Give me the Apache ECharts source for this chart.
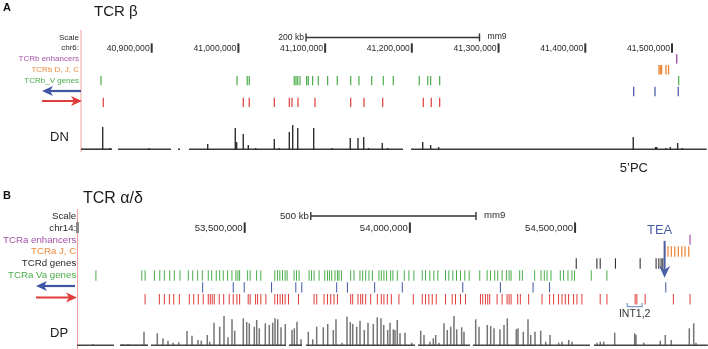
<!DOCTYPE html>
<html>
<head>
<meta charset="utf-8">
<script src="https://cdn.jsdelivr.net/npm/echarts@6/dist/echarts.min.js"></script>
<style>
  html, body { margin: 0; padding: 0; background: #fff; }
  #chart { width: 708px; height: 349px; }
</style>
</head>
<body>
<div id="chart"></div>
<script>
// all genome positions in kb (mm9)
const rangeA = [40818.5, 41541.5]
const rowsA = ['Scale', 'chr6:', 'TCRb enhancers', 'TCRb D, J, C', 'TCRb_V genes', 'minus', 'plus']
const ticksA = [40900, 41000, 41100, 41200, 41300, 41400, 41500]
const scaleBarA = [41078, 41278]
const enhancersA = [41505.4]
const djcA = [41485, 41486.5, 41488, 41493, 41496]
const vGenesA = [40841.5, 40998.4, 41010.2, 41012.5, 41064.4, 41066.4, 41068.4, 41071, 41078.7, 41080.6,
  41085.6, 41092.1, 41102.9, 41114, 41129.5, 41139, 41153.7, 41167.1, 41178.6, 41208.6, 41218.3,
  41221.7, 41232.1, 41507.7]
const minusA = [41455.8, 41480.4, 41507.2]
const plusA = [40844.2, 41005.6, 41012.5, 41041.4, 41058.7, 41061.8, 41068.7, 41088.3, 41129.5,
  41144.8, 41166.4, 41213.2, 41222.4, 41232.1]
// DN signal: [position, height]
const dnPeaks = [[40843.5, 23], [40852, 2], [40897, 2], [40964.6, 6], [40996.4, 22], [40998, 8],
  [41005.6, 16], [41011.4, 5], [41020, 2], [41041.4, 11], [41047, 2], [41058.7, 18], [41062.6, 25],
  [41068.4, 22], [41086.8, 22], [41108, 2], [41129, 12], [41137.9, 12], [41144.5, 13], [41150, 2],
  [41165.9, 7], [41172, 2], [41212.5, 8], [41221.7, 5], [41230.9, 3], [41455.3, 13], [41481, 3],
  [41482.3, 3], [41493, 2], [41498, 3], [41506.5, 7], [41512, 2]]
const dnCovered = [[40818.5, 40854.2], [40861.2, 40922.3], [40930.3, 40932.6], [40943, 41189.8], [41199, 41540]]
const pcLabelPos = 41456

const rangeB = [52996.1, 54902.4]
const rowsB = ['Scale', 'chr14:', 'TCRa enhancers', 'TCRa J, C', 'TCRd genes', 'TCRa Va genes', 'minus', 'plus']
const ticksB = [53500, 54000, 54500]
const scaleBarB = [53700, 54200]
const enhancersB = [54848]
const jcB = [54771.6, 54781.5, 54791.5, 54801.8, 54812.7, 54822.9, 54832.9, 54844.1]
const tcrdB = [54503.6, 54566.1, 54576.1, 54622.3, 54697, 54745.3, 54753.5, 54760.4, 54765.5]
const vaGenesB = [53049.6, 53188.5, 53198.5, 53226.6, 53242.9, 53256.8, 53273.1, 53287, 53304.2, 53329.3,
  53342.6, 53357.7, 53371.6, 53389.7, 53400, 53413.9, 53424.2, 53435, 53448.3, 53461.3, 53473.4, 53479.5,
  53484.6, 53508.8, 53516.6, 53536, 53548.9, 53591.2, 53599.4, 53606.3, 53614.5, 53622.4, 53628.4,
  53649.5, 53656.8, 53664.6, 53694.9, 53702.1, 53710, 53725.1, 53742.3, 53750.5, 53756.5, 53763.4,
  53773.4, 53780.7, 53785.5, 53792.7, 53820.8, 53830.8, 53848.9, 53857.1, 53866.2, 53876.1, 53886.4,
  53906.3, 53913.6, 53921.4, 53929.6, 53941.7, 53948.6, 53961.9, 53983.1, 53997, 54012.1, 54037.5,
  54047.4, 54060.4, 54072.5, 54084.6, 54107.8, 54117.8, 54129.9, 54141.1, 54153.2, 54166.2, 54179.4,
  54211.5, 54233.8, 54243.8, 54256.8, 54265.8, 54279.1, 54292.1, 54300.3, 54306.3, 54332.3, 54340.5,
  54377.6, 54397, 54406.9, 54415.1, 54427.2, 54455.3, 54465.2, 54478.5, 54490.6, 54498.5, 54548.9, 54596.4]
const minusB = [53372.8, 53465.3, 53498.5, 53581.3, 53654.7, 53672.8, 53778.5, 53810.9, 53893.3, 53977,
  54160.1, 54274, 54372.8, 54422.9, 54774.6]
const plusB = [53198.5, 53241.7, 53256.8, 53271.9, 53285.2, 53302.1, 53332.3, 53345.6, 53359.5, 53374.6,
  53389.7, 53395.8, 53401.8, 53407.9, 53423, 53436.3, 53453.2, 53465.3, 53476.4, 53484.6, 53510.6,
  53516.6, 53532.9, 53539, 53548.9, 53564, 53591.2, 53599.4, 53607.2, 53614.5, 53622.4, 53632.6,
  53662.8, 53710, 53718.1, 53740.2, 53750.5, 53760.4, 53770.4, 53780.7, 53820.8, 53826.9, 53842.9,
  53851.1, 53857.1, 53866.2, 53881.3, 53901.5, 53913.6, 53921.4, 53931.7, 53943.8, 53966.8, 54010.3,
  54037.5, 54047.4, 54057.4, 54067.7, 54079.7, 54107.8, 54128.1, 54138.1, 54153.2, 54168.3, 54213.6,
  54220.5, 54228.7, 54235.6, 54241.7, 54264, 54279.1, 54294.2, 54300.3, 54306.3, 54326.3, 54334.4,
  54359.5, 54400, 54422.9, 54435, 54450.1, 54460.4, 54470.4, 54480.3, 54495.5, 54505.7, 54520.8,
  54576.1, 54596.4, 54681.9, 54687, 54712.1, 54797.6, 54848]
// DP signal: [position, height]
const dpPeaks = [[53044, 2], [53135, 2], [53150, 2],
  [53198.5, 14.3], [53238.7, 12.7], [53255.9, 7.7], [53271, 5.3], [53286.1, 3.3], [53303.3, 3.7],
  [53328.4, 15], [53343.5, 10.3], [53361.6, 6], [53371.6, 5.3], [53389.7, 11], [53397, 4.3],
  [53410, 23.3], [53427.2, 19.3], [53440.2, 30], [53452.3, 8.7], [53464.4, 26.7], [53472.5, 15.3],
  [53498.5, 27.7], [53508.8, 24], [53516.6, 22.7], [53531.7, 19.3], [53539, 26], [53546.8, 17.7],
  [53565, 22.7], [53577, 21], [53587.3, 23.3], [53594.3, 27.7], [53602.4, 26.7], [53612.4, 18.7],
  [53625.4, 22], [53645.6, 16], [53652.6, 17.7], [53660.7, 24.3], [53672.8, 6.7], [53694.9, 14.3],
  [53708.2, 6.7], [53720.2, 19.3], [53740.2, 18.7], [53753.5, 22], [53770.4, 16], [53778.5, 26.7],
  [53796.7, 3.3], [53811.8, 29.3], [53821.7, 24], [53829, 22], [53841.1, 19.3], [53851.1, 25.3],
  [53864, 16], [53875.2, 23.3], [53891.2, 22], [53903.3, 28.7], [53914.5, 27.7], [53922.7, 21],
  [53934.7, 16], [53941.7, 23.3], [53951.7, 16.7], [53956.8, 16], [53963.7, 26], [53971.9, 12.7],
  [53987, 13.3], [54007.2, 3.3], [54034.4, 15.3], [54044.4, 11], [54062.5, 4.3], [54072.5, 7.7],
  [54079.7, 11], [54089.7, 3.3], [54104.8, 22.7], [54114.8, 16], [54125.1, 19.3], [54135, 30],
  [54143.2, 16.7], [54158.3, 18.7], [54165.2, 14.3], [54200.6, 26.7], [54210.6, 19.3], [54235.6, 21],
  [54245.9, 20], [54255.9, 17.7], [54274, 16.7], [54286.1, 21], [54296.1, 27.7], [54323.3, 16.7],
  [54328.4, 17.7], [54344.4, 14.3], [54358.6, 26.7], [54366.8, 11], [54379.7, 14.3], [54397, 15.3],
  [54412.1, 4.3], [54425.1, 11], [54451.4, 3.3], [54461.3, 4.3], [54481.6, 6], [54491.5, 4.3],
  [54567, 3.3], [54577, 4.3], [54587.3, 4.3], [54620.5, 13.3], [54680.9, 12.7], [54684.9, 11],
  [54708.2, 3.3], [54758.3, 5.3], [54773.4, 11], [54791.5, 6], [54845.9, 17.7], [54859.2, 22.7], [54866.1, 3.3]]
const dpCovered = [[52996, 53107.9], [53126, 53210.6], [53219.6, 53627.5], [53636.6, 53675.8],
  [53687.9, 54017.2], [54026.3, 54183.4], [54192.4, 54545.9], [54558, 54902]]
const teaPos = 54771
const int12 = [54658, 54703]

const FONT = '"Liberation Sans", Arial, sans-serif'
const C = {
  purple: '#a452a8', orange: '#ee8a3c', green: '#4aad4a', blue: '#3f56a4',
  red: '#e03c3c', black: '#333', text: '#2a2a2a', pink: '#f2a0a0'
}
const labelColorsA = [C.text, C.text, C.purple, C.orange, C.green, C.text, C.text]
const labelColorsB = [C.text, C.text, C.purple, C.orange, C.text, C.green, C.text, C.text]

const fmtPos = v => String(Math.round(v * 1000)).replace(/\B(?=(\d{3})+(?!\d))/g, ',')

function trackSeries(idx, positions, row, color, w) {
  return {
    type: 'custom', xAxisIndex: idx, yAxisIndex: idx, silent: true,
    data: positions.map(p => [p, row]),
    renderItem: function (params, api) {
      const c = api.coord([api.value(0), api.value(1)])
      const h = api.size([0, 1])[1]
      return {
        type: 'rect',
        shape: { x: c[0] - w / 2, y: c[1] - h / 2 + 0.5, width: w, height: h - 1.5 },
        style: { fill: color }
      }
    }
  }
}

function scaleSeries(idx, bar, label, fs) {
  return {
    type: 'custom', xAxisIndex: idx, yAxisIndex: idx, silent: true,
    data: [[bar[0], bar[1], 0]],
    renderItem: function (params, api) {
      const a = api.coord([api.value(0), 0])
      const b = api.coord([api.value(1), 0])
      const y = a[1]
      return {
        type: 'group',
        children: [
          { type: 'rect', shape: { x: a[0], y: y - 0.6, width: b[0] - a[0], height: 1.3 }, style: { fill: '#333' } },
          { type: 'rect', shape: { x: a[0] - 0.7, y: y - 4, width: 1.4, height: 8 }, style: { fill: '#333' } },
          { type: 'rect', shape: { x: b[0] - 0.7, y: y - 4, width: 1.4, height: 8 }, style: { fill: '#333' } },
          { type: 'text', style: { text: label, x: a[0] - 2, y: y, align: 'right', verticalAlign: 'middle', font: fs + 'px ' + FONT, fill: C.text } },
          { type: 'text', style: { text: 'mm9', x: b[0] + 8, y: y - 1, align: 'left', verticalAlign: 'middle', font: fs + 'px ' + FONT, fill: C.text } }
        ]
      }
    }
  }
}

function chrTickSeries(idx, ticks, fs) {
  return {
    type: 'custom', xAxisIndex: idx, yAxisIndex: idx, silent: true,
    data: ticks.map(t => [t, 1]),
    renderItem: function (params, api) {
      const c = api.coord([api.value(0), 1])
      const h = api.size([0, 1])[1]
      return {
        type: 'group',
        children: [
          { type: 'rect', shape: { x: c[0] - 1, y: c[1] - h / 2 + 0.5, width: 2, height: h - 1.5 }, style: { fill: '#333' } },
          { type: 'text', style: { text: fmtPos(api.value(0)), x: c[0] - 2, y: c[1], align: 'right', verticalAlign: 'middle', font: fs + 'px ' + FONT, fill: C.text } }
        ]
      }
    }
  }
}

function peakSeries(idx, peaks, color, w) {
  return {
    type: 'custom', xAxisIndex: idx, yAxisIndex: idx, silent: true,
    data: peaks,
    renderItem: function (params, api) {
      const b = api.coord([api.value(0), 0])
      const t = api.coord([api.value(0), api.value(1)])
      return { type: 'rect', shape: { x: b[0] - w / 2, y: t[1], width: w, height: b[1] - t[1] }, style: { fill: color } }
    }
  }
}

function coverSeries(idx, segs, color) {
  return {
    type: 'custom', xAxisIndex: idx, yAxisIndex: idx, silent: true,
    data: segs,
    renderItem: function (params, api) {
      const a = api.coord([api.value(0), 0])
      const b = api.coord([api.value(1), 0])
      return { type: 'rect', shape: { x: a[0], y: a[1] - 1.6, width: b[0] - a[0], height: 1.6 }, style: { fill: color } }
    }
  }
}

function trackYAxis(idx, rows, colors, fs) {
  return {
    type: 'category', gridIndex: idx, data: rows, inverse: true,
    axisLine: { show: false }, axisTick: { show: false }, splitLine: { show: false },
    axisLabel: {
      interval: 0, margin: 2, fontSize: fs, fontFamily: FONT,
      color: (v, i) => colors[i],
      formatter: v => (v === 'minus' || v === 'plus') ? '' : v
    }
  }
}

function arrow(x1, x2, y, color) {
  // x1 tail, x2 tip
  const d = x2 > x1 ? 1 : -1
  return {
    type: 'group', silent: true,
    children: [
      { type: 'line', shape: { x1: x1, y1: y, x2: x2 - d * 7, y2: y }, style: { stroke: color, lineWidth: 2.2 } },
      { type: 'polygon', shape: { points: [[x2, y], [x2 - d * 11, y - 5], [x2 - d * 8, y], [x2 - d * 11, y + 5]] }, style: { fill: color } }
    ]
  }
}

function txt(text, x, y, size, color, extra) {
  return Object.assign({
    type: 'text', silent: true,
    style: { text: text, x: x, y: y, font: size + 'px ' + FONT, fill: color, align: 'left', verticalAlign: 'middle' }
  }, extra || {})
}

const chart = echarts.init(document.getElementById('chart'), null, { renderer: 'canvas' })

chart.setOption({
  animation: false,
  grid: [
    { left: 81, right: 0, top: 32, height: 76 },
    { left: 81, right: 0, top: 118, height: 32 },
    { left: 77, right: 0, top: 210, height: 95.5 },
    { left: 77, right: 0, top: 306, height: 40 }
  ],
  xAxis: [
    { type: 'value', gridIndex: 0, min: rangeA[0], max: rangeA[1], show: false },
    { type: 'value', gridIndex: 1, min: rangeA[0], max: rangeA[1], show: false },
    { type: 'value', gridIndex: 2, min: rangeB[0], max: rangeB[1], show: false },
    { type: 'value', gridIndex: 3, min: rangeB[0], max: rangeB[1], show: false }
  ],
  yAxis: [
    trackYAxis(0, rowsA, labelColorsA, 8),
    { type: 'value', gridIndex: 1, min: 0, max: 32, show: false },
    trackYAxis(2, rowsB, labelColorsB, 9.7),
    { type: 'value', gridIndex: 3, min: 0, max: 40, show: false }
  ],
  series: [
    scaleSeries(0, scaleBarA, '200 kb', 8.6),
    chrTickSeries(0, ticksA, 8.6),
    trackSeries(0, enhancersA, 2, C.purple, 1.4),
    trackSeries(0, djcA, 3, C.orange, 1.4),
    trackSeries(0, vGenesA, 4, C.green, 1.2),
    trackSeries(0, minusA, 5, C.blue, 1.2),
    trackSeries(0, plusA, 6, C.red, 1.2),
    coverSeries(1, dnCovered, '#3a3a3a'),
    peakSeries(1, dnPeaks, '#2e2e2e', 1.4),
    {
      type: 'custom', xAxisIndex: 1, yAxisIndex: 1, silent: true,
      data: [[pcLabelPos, 0]],
      renderItem: function (params, api) {
        const c = api.coord([api.value(0), 0])
        return { type: 'text', style: { text: '5\u2019PC', x: c[0], y: c[1] + 18, align: 'center', verticalAlign: 'middle', font: '13px ' + FONT, fill: '#222' } }
      }
    },

    scaleSeries(2, scaleBarB, '500 kb', 9.6),
    chrTickSeries(2, ticksB, 9.6),
    trackSeries(2, enhancersB, 2, C.purple, 1.2),
    trackSeries(2, jcB, 3, C.orange, 1.3),
    trackSeries(2, tcrdB, 4, C.black, 1.1),
    trackSeries(2, vaGenesB, 5, C.green, 1.0),
    trackSeries(2, minusB, 6, C.blue, 1.0),
    trackSeries(2, plusB, 7, C.red, 1.0),
    coverSeries(3, dpCovered, '#444'),
    peakSeries(3, dpPeaks, 'rgba(70,70,70,0.75)', 1.5),
    {
      type: 'custom', xAxisIndex: 2, yAxisIndex: 2, silent: true,
      data: [[teaPos, 2]],
      renderItem: function (params, api) {
        const c = api.coord([api.value(0), 2])
        const x = c[0], y = c[1]
        return {
          type: 'group',
          children: [
            { type: 'text', style: { text: 'TEA', x: x - 5, y: y - 9, align: 'center', verticalAlign: 'middle', font: '13px ' + FONT, fill: '#4a5fa6' } },
            { type: 'line', shape: { x1: x, y1: y + 1, x2: x, y2: y + 30 }, style: { stroke: '#4a5fa6', lineWidth: 2 } },
            { type: 'polygon', shape: { points: [[x, y + 38], [x - 5.5, y + 26], [x, y + 30], [x + 5.5, y + 26]] }, style: { fill: '#4a5fa6' } }
          ]
        }
      }
    },
    {
      type: 'custom', xAxisIndex: 2, yAxisIndex: 2, silent: true,
      data: [[int12[0], int12[1], 7]],
      renderItem: function (params, api) {
        const a = api.coord([api.value(0), 7])
        const b = api.coord([api.value(1), 7])
        const y = a[1]
        return {
          type: 'group',
          children: [
            { type: 'polyline', shape: { points: [[a[0], y + 3.5], [a[0], y + 7], [b[0], y + 7], [b[0], y + 3.5]] }, style: { stroke: '#7b9cc9', lineWidth: 1.2, fill: null } },
            { type: 'text', style: { text: 'INT1,2', x: (a[0] + b[0]) / 2, y: y + 15, align: 'center', verticalAlign: 'middle', font: '10.5px ' + FONT, fill: '#333' } }
          ]
        }
      }
    }
  ],
  graphic: [
    { type: 'line', silent: true, shape: { x1: 81, y1: 30, x2: 81, y2: 152 }, style: { stroke: C.pink, lineWidth: 1 } },
    { type: 'line', silent: true, shape: { x1: 77.5, y1: 209, x2: 77.5, y2: 349 }, style: { stroke: C.pink, lineWidth: 1 } },
    { type: 'rect', silent: true, shape: { x: 76, y: 222, width: 3, height: 11 }, style: { fill: '#8a8a8a' } },
    arrow(81, 42, 91, C.blue),
    arrow(42, 82, 101, C.red),
    arrow(75, 36, 286, C.blue),
    arrow(36, 77, 297.5, C.red),
    txt('A', 3, 8, 11, '#111', { style: { text: 'A', x: 3, y: 8, font: 'bold 11px ' + FONT, fill: '#111', verticalAlign: 'middle' } }),
    txt('B', 3, 196, 11, '#111', { style: { text: 'B', x: 3, y: 196, font: 'bold 11px ' + FONT, fill: '#111', verticalAlign: 'middle' } }),
    txt('TCR \u03b2', 94, 12, 15, '#1a1a1a'),
    txt('TCR \u03b1/\u03b4', 83, 199, 16, '#1a1a1a'),
    txt('DN', 50, 137, 13, '#1a1a1a'),
    txt('DP', 50, 333, 13, '#1a1a1a')
  ]
})
</script>
</body>
</html>
